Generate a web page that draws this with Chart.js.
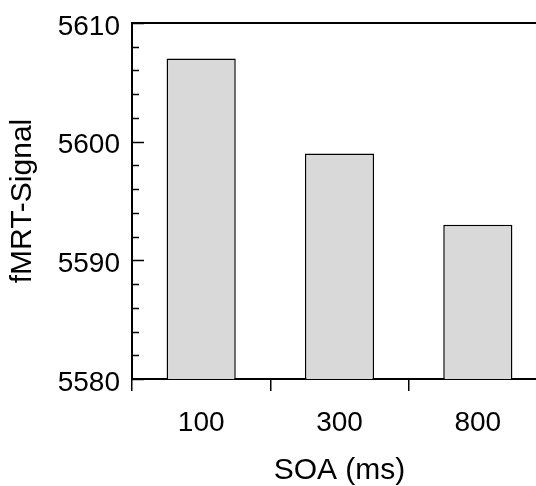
<!DOCTYPE html>
<html>
<head>
<meta charset="utf-8">
<script src="https://cdn.jsdelivr.net/npm/chart.js@4.4.0/dist/chart.umd.min.js"></script>
<style>
  html, body { margin: 0; padding: 0; background: #fff; overflow: hidden; }
  #wrap { width: 548px; height: 486px; position: relative; }
</style>
</head>
<body>
<div id="wrap"><canvas id="c"></canvas></div>
<script>
const categories = ['100', '300', '800'];
const signalValues = [5607, 5599, 5593];
const yMajorTicks = [5580, 5590, 5600, 5610];
const yMinorTicks = [5582, 5584, 5586, 5588, 5592, 5594, 5596, 5598, 5602, 5604, 5606, 5608];
const xTitle = 'SOA (ms)';
const yTitle = 'fMRT-Signal';

const FONT = "'Liberation Sans', Arial, Helvetica, sans-serif";

const inwardTicks = {
  id: 'inwardTicks',
  afterDraw(chart) {
    const y = chart.scales.y;
    const ctx = chart.ctx;
    const left = chart.chartArea.left;
    ctx.save();
    ctx.strokeStyle = '#000';
    ctx.lineWidth = 1.5;
    const draw = (v, len) => {
      const py = Math.round(y.getPixelForValue(v)) + 0.5;
      ctx.beginPath();
      ctx.moveTo(left, py);
      ctx.lineTo(left + len, py);
      ctx.stroke();
    };
    yMajorTicks.forEach(v => draw(v, 12));
    yMinorTicks.forEach(v => draw(v, 7));
    ctx.restore();
  }
};

new Chart(document.getElementById('c'), {
  type: 'bar',
  data: {
    labels: categories,
    datasets: [{
      data: signalValues,
      backgroundColor: '#d9d9d9',
      borderColor: '#000',
      borderWidth: 1.5,
      borderSkipped: false,
      barPercentage: 0.5,
      categoryPercentage: 1.0
    }]
  },
  options: {
    responsive: true,
    maintainAspectRatio: false,
    animation: false,
    layout: { padding: { top: 23, right: 1, left: 0, bottom: 0 } },
    plugins: { legend: { display: false }, tooltip: { enabled: false } },
    scales: {
      x: {
        offset: true,
        grid: {
          offset: true,
          drawOnChartArea: false,
          drawTicks: true,
          tickLength: 12,
          color: '#000',
          lineWidth: 1.5
        },
        border: { display: true, color: '#000', width: 2 },
        ticks: {
          color: '#000',
          font: { family: FONT, size: 28 },
          padding: 15,
          maxRotation: 0
        },
        title: {
          display: true,
          text: xTitle,
          color: '#000',
          font: { family: FONT, size: 30 },
          padding: { top: 0, bottom: -3 }
        },
        afterFit(scale) { scale.height = 107; scale.paddingLeft = 0; scale.paddingRight = 0; }
      },
      y: {
        min: yMajorTicks[0],
        max: yMajorTicks[yMajorTicks.length - 1],
        afterBuildTicks(scale) { scale.ticks = yMajorTicks.map(v => ({ value: v })); },
        grid: {
          drawTicks: false,
          drawOnChartArea: true,
          color: ctx => (ctx.tick && ctx.tick.value === yMajorTicks[yMajorTicks.length - 1]) ? '#000' : 'rgba(0,0,0,0)',
          lineWidth: 2
        },
        border: { display: true, color: '#000', width: 2 },
        ticks: {
          color: '#000',
          font: { family: FONT, size: 28 },
          padding: 12,
          labelOffset: 4,
          callback: v => String(v)
        },
        title: {
          display: true,
          text: yTitle,
          color: '#000',
          font: { family: FONT, size: 30 },
          padding: { top: 5, bottom: 0 }
        },
        afterFit(scale) { scale.width = 132; scale.paddingTop = 0; scale.paddingBottom = 0; }
      }
    }
  },
  plugins: [inwardTicks]
});
</script>
</body>
</html>
